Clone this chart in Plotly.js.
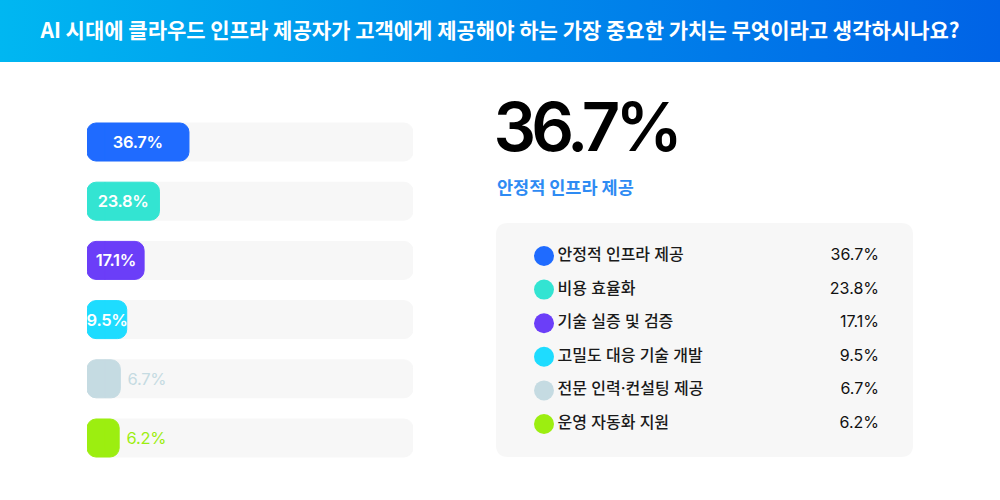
<!DOCTYPE html>
<html>
<head>
<meta charset="utf-8">
<script src="https://cdn.plot.ly/plotly-3.0.1.min.js"></script>
<style>
    body { margin: 0; background: #ffffff; }
    #chart {
        width: 1000px;
        height: 500px;
        background: linear-gradient(90deg, #00b7f1 0%, #008fec 45%, #0063e6 100%) top left / 100% 62px no-repeat, #ffffff;
    }
    /* bar labels and headline number are set a bit tighter */
    #chart .annotation text { letter-spacing: -0.3px; }
    #chart .annotation[data-index="6"] text { letter-spacing: -5px; }
    #chart .annotation[data-index="7"] text { letter-spacing: 0; }
</style>
</head>
<body>
<div id="chart"></div>
<script>
var titleText = 'AI 시대에 클라우드 인프라 제공자가 고객에게 제공해야 하는 가장 중요한 가치는 무엇이라고 생각하시나요?';
var categories = ['안정적 인프라 제공', '비용 효율화', '기술 실증 및 검증', '고밀도 대응 기술 개발', '전문 인력·컨설팅 제공', '운영 자동화 지원'];
var values = [36.7, 23.8, 17.1, 9.5, 6.7, 6.2];
var colors = ['#1f6bff', '#33e4d2', '#6b3ef8', '#1edcff', '#c5dbe2', '#9cee10'];

var KR = '"Noto Sans CJK KR", Inter, sans-serif';
var NUM = 'Inter, "Noto Sans CJK KR", sans-serif';

// left axis: bars start a little before zero so the left end can be rounded too
var xMin = -7.86;
var xMax = 134.6;
var insideMin = 8;

function pct(v) {
    return v.toFixed(1) + '%';
}

function fill(n, v) {
    return Array(n).fill().map(function () { return v; });
}

// rounded rectangle in paper coords from pixel box
function roundedRect(x0, y0, x1, y1, r) {
    function px(x) { return (x / 1000).toFixed(4); }
    function py(y) { return (1 - y / 500).toFixed(4); }
    return 'M' + px(x0 + r) + ',' + py(y0) +
        ' L' + px(x1 - r) + ',' + py(y0) +
        ' Q' + px(x1) + ',' + py(y0) + ' ' + px(x1) + ',' + py(y0 + r) +
        ' L' + px(x1) + ',' + py(y1 - r) +
        ' Q' + px(x1) + ',' + py(y1) + ' ' + px(x1 - r) + ',' + py(y1) +
        ' L' + px(x0 + r) + ',' + py(y1) +
        ' Q' + px(x0) + ',' + py(y1) + ' ' + px(x0) + ',' + py(y1 - r) +
        ' L' + px(x0) + ',' + py(y0 + r) +
        ' Q' + px(x0) + ',' + py(y0) + ' ' + px(x0 + r) + ',' + py(y0) + ' Z';
}

var n = categories.length;
var track = '#f7f7f7';

// thin outline in the fill colour hides the seam between the two halves
var traces = [
    // background tracks
    {
        type: 'bar', orientation: 'h', y: categories, x: fill(n, xMin),
        xaxis: 'x', yaxis: 'y', hoverinfo: 'skip',
        marker: { color: track, line: { color: track, width: 1 } }
    },
    {
        type: 'bar', orientation: 'h', y: categories, x: fill(n, xMax),
        xaxis: 'x', yaxis: 'y', hoverinfo: 'skip',
        marker: { color: track, line: { color: track, width: 1 } }
    },
    // value bars
    {
        type: 'bar', orientation: 'h', y: categories, x: fill(n, xMin),
        xaxis: 'x', yaxis: 'y2', hoverinfo: 'skip',
        marker: { color: colors, line: { color: colors, width: 1 } }
    },
    {
        type: 'bar', orientation: 'h', y: categories, x: values,
        xaxis: 'x', yaxis: 'y2',
        marker: { color: colors, line: { color: colors, width: 1 } }
    },
    // legend list
    {
        type: 'scatter', mode: 'markers+text', xaxis: 'x2', yaxis: 'y3',
        x: fill(n, 0), y: categories, text: categories,
        textposition: 'middle right',
        textfont: { family: NUM, size: 16, weight: 500, color: '#1a1a1a' },
        marker: { size: 20, color: colors },
        cliponaxis: false
    },
    {
        type: 'scatter', mode: 'text', xaxis: 'x2', yaxis: 'y3',
        x: fill(n, 1), y: categories, text: values.map(pct),
        textposition: 'middle left',
        textfont: { family: NUM, size: 16, color: '#111111' },
        cliponaxis: false
    }
];

var annotations = values.map(function (v, i) {
    var inside = v >= insideMin;
    return {
        xref: 'x', yref: 'y2',
        x: inside ? (xMin + v) / 2 : v,
        y: categories[i],
        text: pct(v),
        showarrow: false,
        xanchor: inside ? 'center' : 'left',
        xshift: inside ? 0 : 5,
        font: {
            family: NUM, size: 16.5,
            weight: inside ? 600 : 400,
            color: inside ? '#ffffff' : colors[i]
        }
    };
});

// headline: largest answer
annotations.push({
    xref: 'paper', yref: 'paper', x: 0.479, y: 0.748,
    xanchor: 'left', yanchor: 'middle', showarrow: false,
    text: pct(values[0]),
    font: { family: NUM, size: 67, weight: 600, color: '#000000' }
});
annotations.push({
    xref: 'paper', yref: 'paper', x: 0.495, y: 0.628,
    xanchor: 'left', yanchor: 'middle', showarrow: false,
    text: categories[0],
    font: { family: KR, size: 17.5, weight: 700, color: '#2e8bf3' }
});

var hidden = { showgrid: false, zeroline: false, showline: false, showticklabels: false, ticks: '' };

var layout = {
    width: 1000,
    height: 500,
    margin: { l: 0, r: 0, t: 0, b: 0, pad: 0 },
    paper_bgcolor: 'rgba(0, 0, 0, 0)',
    plot_bgcolor: 'rgba(0, 0, 0, 0)',
    showlegend: false,
    barmode: 'relative',
    barcornerradius: 9,
    bargap: 0.358,
    title: {
        text: titleText,
        x: 0.5, xanchor: 'center',
        y: 0.938, yanchor: 'middle',
        font: { family: KR, size: 21, weight: 700, color: '#ffffff' }
    },
    xaxis: Object.assign({ domain: [0.087, 0.413], range: [xMin, xMax], anchor: 'y', fixedrange: true }, hidden),
    yaxis: Object.assign({ domain: [0.0648, 0.7752], type: 'category', categoryarray: categories, range: [5.5, -0.5], anchor: 'x' }, hidden),
    yaxis2: Object.assign({ domain: [0.0648, 0.7752], type: 'category', categoryarray: categories, range: [5.5, -0.5], overlaying: 'y', anchor: 'x' }, hidden),
    xaxis2: Object.assign({ domain: [0.544, 0.879], range: [0, 1], anchor: 'y3' }, hidden),
    yaxis3: Object.assign({ domain: [0.1184, 0.5216], type: 'category', categoryarray: categories, range: [5.5, -0.5], anchor: 'x2' }, hidden),
    shapes: [
        {
            type: 'path', xref: 'paper', yref: 'paper', layer: 'below',
            path: roundedRect(496, 223, 913, 457, 12),
            fillcolor: '#f7f7f7', line: { width: 0 }
        }
    ],
    annotations: annotations
};

Plotly.newPlot('chart', traces, layout, { displayModeBar: false, staticPlot: true });
</script>
</body>
</html>
